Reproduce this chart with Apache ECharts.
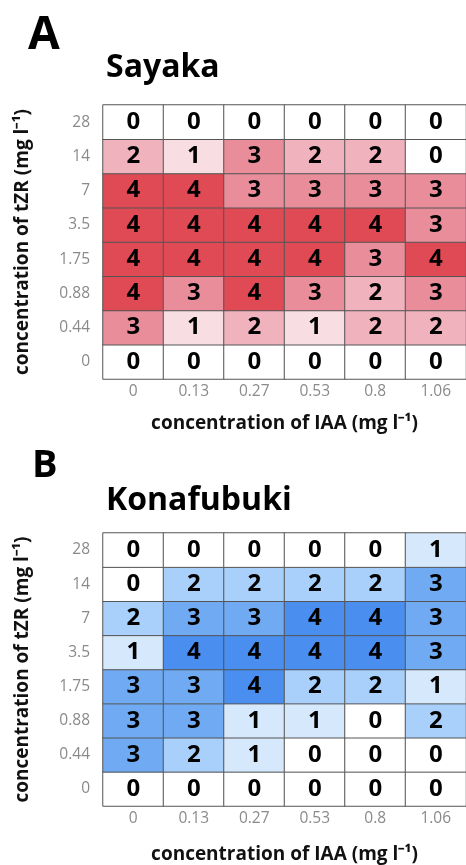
<!DOCTYPE html>
<html><head><meta charset="utf-8">
<script src="https://cdn.jsdelivr.net/npm/echarts@6/dist/echarts.min.js"></script>
<style>html,body{margin:0;padding:0;background:#fff}#c{width:466px;height:865px}</style>
</head><body><div id="c"></div>
<script>
const iaaLabels = ['0','0.13','0.27','0.53','0.8','1.06'];
const tzrLabels = ['0','0.44','0.88','1.75','3.5','7','14','28'];
// rows listed bottom (tZR 0) to top (tZR 28); columns IAA 0 .. 1.06
const sayaka = [
  [0,0,0,0,0,0],
  [3,1,2,1,2,2],
  [4,3,4,3,2,3],
  [4,4,4,4,3,4],
  [4,4,4,4,4,3],
  [4,4,3,3,3,3],
  [2,1,3,2,2,0],
  [0,0,0,0,0,0]
];
const konafubuki = [
  [0,0,0,0,0,0],
  [3,2,1,0,0,0],
  [3,3,1,1,0,2],
  [3,3,4,2,2,1],
  [1,4,4,4,4,3],
  [2,3,3,4,4,3],
  [0,2,2,2,2,3],
  [0,0,0,0,0,1]
];
const redShades = ['#ffffff','#f8dde2','#f0b3bd','#e88d99','#e04a55'];
const blueShades = ['#ffffff','#d6e8fc','#a8d0fa','#6faaf2','#4a8ef0'];

function toData(m){
  const out=[];
  m.forEach((row,yi)=>row.forEach((v,xi)=>out.push([xi,yi,v])));
  return out;
}
const font='"Open Sans", sans-serif';
function xAx(gi,gap){return {type:'category',gridIndex:gi,data:iaaLabels,
  axisLine:{show:false},axisTick:{show:false},splitArea:{show:false},
  axisLabel:{color:'#8a8a8a',fontSize:15.5,margin:5,fontFamily:font},
  name:'concentration of IAA (mg l⁻¹)',nameLocation:'middle',nameGap:gap,
  nameTextStyle:{fontWeight:'bold',fontSize:19,color:'#111',fontFamily:font}};}
function yAx(gi){return {type:'category',gridIndex:gi,data:tzrLabels,
  axisLine:{show:false},axisTick:{show:false},
  axisLabel:{color:'#8a8a8a',fontSize:15.5,margin:13,fontFamily:font},
  name:'concentration of tZR (mg l⁻¹)',nameLocation:'middle',nameGap:71,nameRotate:90,
  nameTextStyle:{fontWeight:'bold',fontSize:19,color:'#111',fontFamily:font}};}
function pieces(sh){return sh.map((c,i)=>({value:i,color:c}));}
const lbl={show:true,color:'#000',fontWeight:'bold',fontSize:24,fontFamily:font};
const chart=echarts.init(document.getElementById('c'));
chart.setOption({
  animation:false,
  title:[
    {text:'A',left:23,top:8,textStyle:{fontSize:46,fontWeight:'bold',color:'#000',fontFamily:font}},
    {text:'Sayaka',left:101,top:47,textStyle:{fontSize:32,fontWeight:'bold',color:'#000',fontFamily:font}},
    {text:'B',left:27,top:442,textStyle:{fontSize:38,fontWeight:'bold',color:'#000',fontFamily:font}},
    {text:'Konafubuki',left:101,top:480,textStyle:{fontSize:32,fontWeight:'bold',color:'#000',fontFamily:font}}
  ],
  grid:[
    {left:103,top:105,width:363,height:274},
    {left:103,top:533,width:363,height:274}
  ],
  xAxis:[xAx(0,35),xAx(1,39)],
  yAxis:[yAx(0),yAx(1)],
  visualMap:[
    {type:'piecewise',show:false,seriesIndex:0,dimension:2,pieces:pieces(redShades)},
    {type:'piecewise',show:false,seriesIndex:1,dimension:2,pieces:pieces(blueShades)}
  ],
  series:[
    {type:'heatmap',xAxisIndex:0,yAxisIndex:0,data:toData(sayaka),label:lbl,
      itemStyle:{borderColor:'#555',borderWidth:1}},
    {type:'heatmap',xAxisIndex:1,yAxisIndex:1,data:toData(konafubuki),label:lbl,
      itemStyle:{borderColor:'#555',borderWidth:1}}
  ]
});
</script></body></html>
